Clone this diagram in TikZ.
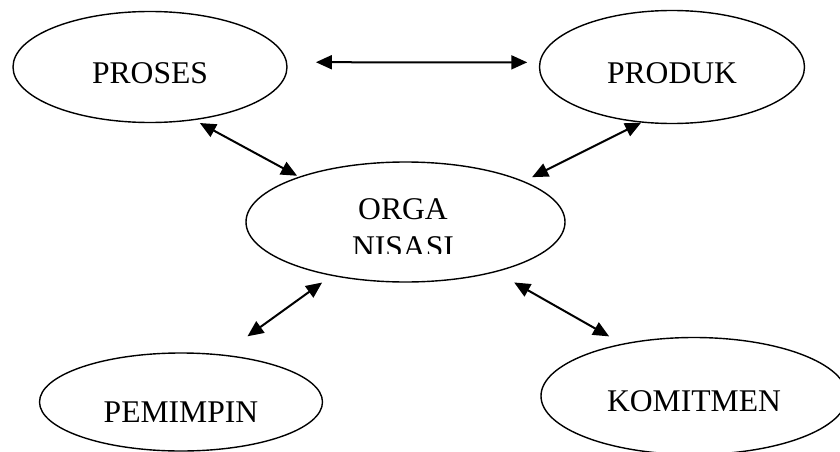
\documentclass[tikz,border=0pt]{standalone}
\usepackage{fontspec}
\setmainfont{Liberation Serif}
\usetikzlibrary{shapes.geometric}
\usetikzlibrary{arrows.meta}
\tikzset{   bubble/.style = {ellipse, draw = black, line width = 1.4pt, inner sep = 0pt, font = \fontsize{31.6}{38}\selectfont, text height = #1, text depth = 0pt},
            bubble/.default = 32pt,
            link/.style = {<->, >={Triangle[length=16pt, width=14pt]}, line width = 2pt}}

\begin{document}
\begin{tikzpicture}[x=1pt, y=-1pt]
                        \useasboundingbox (0,0) rectangle (840,452);
                        \node[bubble, minimum width=274pt, minimum height=111pt] (proses) at (150,67) {PROSES};
                        \node[bubble, minimum width=265pt, minimum height=113pt] (produk) at (672,67) {PRODUK};
                        \node[bubble, minimum width=319pt, minimum height=120pt] (org) at (405.5,222) {};
                        \node[bubble=41pt, minimum width=283pt, minimum height=98pt] (pemimpin) at (181,402) {PEMIMPIN};
                        \node[bubble=31pt, minimum width=306pt, minimum height=117pt] (komitmen) at (694,396) {KOMITMEN};
                        \begin{scope}
                        \clip (246,160) rectangle (566,253.5);
                        \node[align=center, inner sep=0pt, font=\fontsize{31.6}{38}\selectfont] (orglabel) at (403,228) {ORGA\\NISASI};
                        \end{scope}
                        \draw[link, shorten <=28.7pt, shorten >=12pt] (proses.2) -- (produk.178);
                        \draw[link, shorten <=6pt, shorten >=2pt] (proses.-50) -- (org.157);
                        \draw[link, shorten <=9pt] (org.19) -- (produk.-119);
                        \draw[link, shorten <=11.5pt, shorten >=31pt] (org.-144) -- (pemimpin.49);
                        \draw[link, shorten <=21pt, shorten >=14.8pt] (org.-29) -- (komitmen.144);
                      \end{tikzpicture}
\end{document}
